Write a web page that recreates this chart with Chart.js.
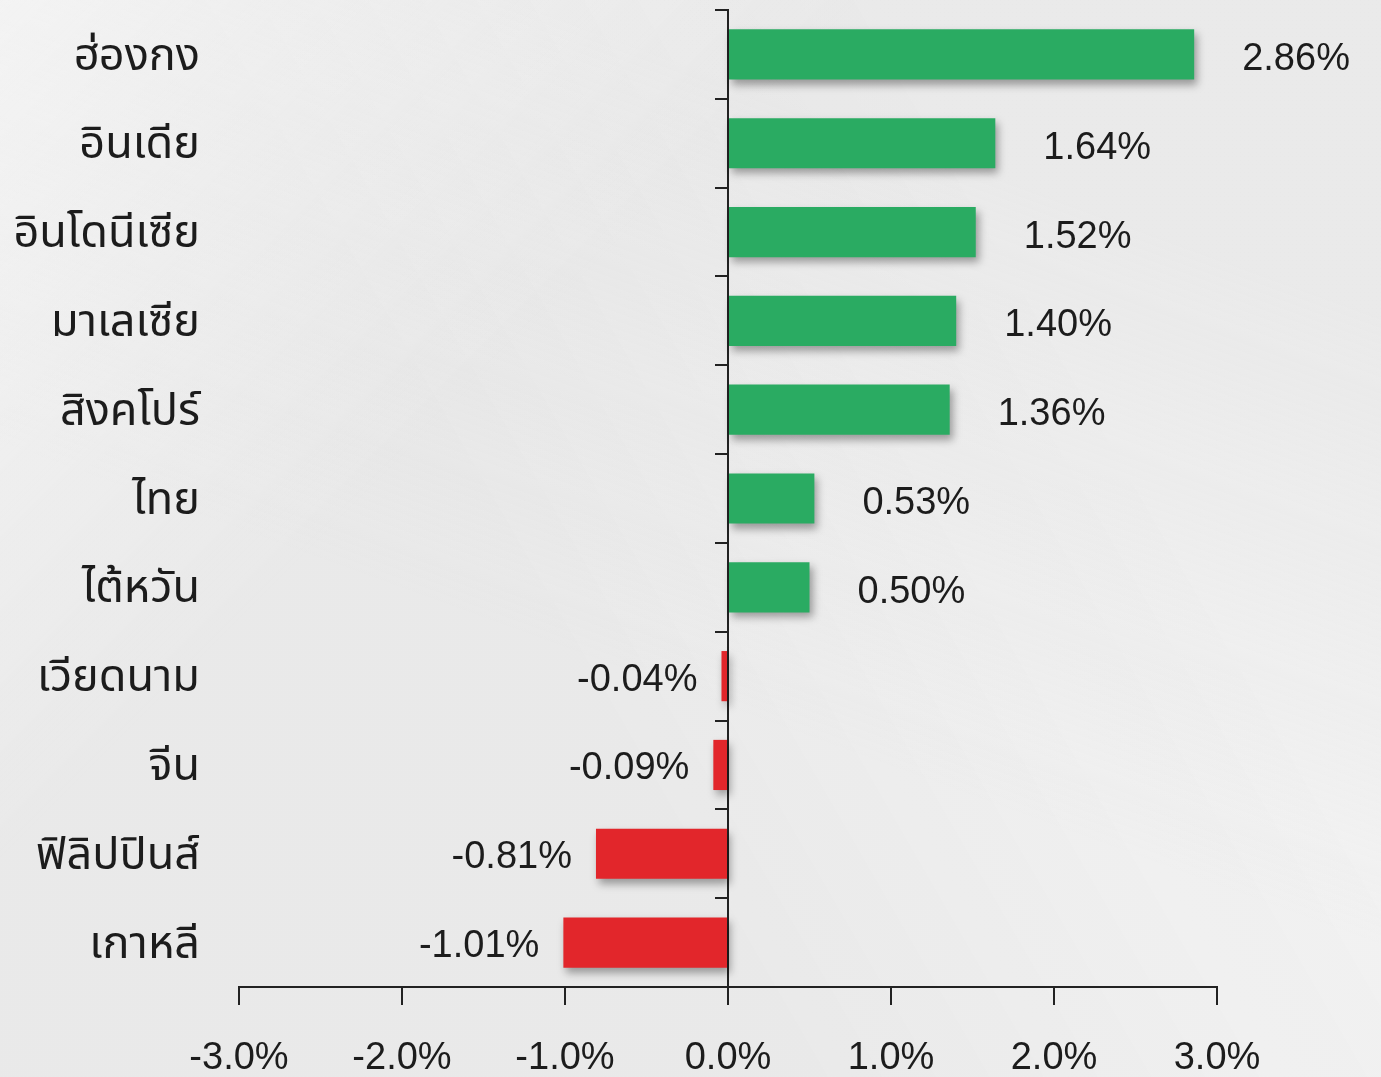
<!DOCTYPE html>
<html>
<head>
<meta charset="utf-8">
<script src="https://cdn.jsdelivr.net/npm/chart.js@4"></script>
<style>
  html, body { margin: 0; padding: 0; overflow: hidden; }
  body {
    width: 1381px; height: 1077px;
    background:
      linear-gradient(135deg, rgba(255,255,255,0.55) 0%, rgba(255,255,255,0) 35%),
      linear-gradient(200deg, rgba(215,215,215,0.3) 20%, rgba(255,255,255,0) 60%),
      linear-gradient(60deg, rgba(228,228,228,0.4) 40%, rgba(252,252,252,0.35) 75%),
      #ededed;
  }
  #wrap { position: absolute; left: 0; top: 0; width: 1381px; height: 1110px; }
</style>
</head>
<body>
<div id="wrap"><canvas id="barChart"></canvas></div>
<script>
// ข้อมูล
const countries = ['ฮ่องกง', 'อินเดีย', 'อินโดนีเซีย', 'มาเลเซีย', 'สิงคโปร์', 'ไทย', 'ไต้หวัน', 'เวียดนาม', 'จีน', 'ฟิลิปปินส์', 'เกาหลี'];
const changes = [2.86, 1.64, 1.52, 1.40, 1.36, 0.53, 0.50, -0.04, -0.09, -0.81, -1.01];
const xTicks = [-3, -2, -1, 0, 1, 2, 3];

const GREEN = '#2aab62';
const RED = '#e2262b';
const TEXT = '#1c1c1c';
const NUM_FONT = '"Liberation Sans", Arial, sans-serif';
const THAI_FONT = '"Noto Sans Thai", "Noto Sans", "DejaVu Sans", sans-serif';

function barColors(){
    let colors = [];
    for (let i = 0; i < changes.length; i++)
        colors.push(changes[i] >= 0 ? GREEN : RED);
    return colors;
}

// เงาของแท่ง
const shadowPlugin = {
    id: 'barShadow',
    beforeDatasetDraw(chart) {
        const ctx = chart.ctx;
        ctx.save();
        ctx.shadowColor = 'rgba(0,0,0,0.35)';
        ctx.shadowBlur = 8;
        ctx.shadowOffsetX = 3;
        ctx.shadowOffsetY = 5;
    },
    afterDatasetDraw(chart) {
        chart.ctx.restore();
    }
};

// ป้ายค่าบนแท่ง
const valueLabels = {
    id: 'valueLabels',
    afterDatasetsDraw(chart) {
        const ctx = chart.ctx;
        const meta = chart.getDatasetMeta(0);
        ctx.save();
        ctx.font = '38px ' + NUM_FONT;
        ctx.fillStyle = TEXT;
        ctx.textBaseline = 'middle';
        meta.data.forEach((bar, i) => {
            const v = changes[i];
            const txt = v.toFixed(2) + '%';
            if (v >= 0) {
                ctx.textAlign = 'left';
                ctx.fillText(txt, bar.x + 48, bar.y + 5);
            } else {
                ctx.textAlign = 'right';
                ctx.fillText(txt, bar.x - 24, bar.y + 4);
            }
        });
        ctx.restore();
    }
};

const data = {
    labels: countries,
    datasets: [{
        data: changes,
        backgroundColor: barColors(),
        borderWidth: 0,
        barPercentage: 0.565,
        categoryPercentage: 1
    }]
};

const config = {
    type: 'bar',
    data: data,
    options: {
        indexAxis: 'y',
        responsive: true,
        maintainAspectRatio: false,
        animation: false,
        layout: { padding: { top: 10, right: 164, left: 0, bottom: 0 } },
        plugins: { legend: { display: false }, tooltip: { enabled: false } },
        scales: {
            x: {
                type: 'linear',
                min: -3, max: 3,
                afterBuildTicks: (s) => { s.ticks = xTicks.map(v => ({ value: v })); },
                afterFit: (s) => { s.height = 123; },
                grid: { drawOnChartArea: false, drawTicks: true, tickLength: 18, color: '#222', lineWidth: 2 },
                border: { display: true, color: '#222', width: 2 },
                ticks: {
                    color: TEXT,
                    font: { size: 38, family: NUM_FONT },
                    padding: 31,
                    maxRotation: 0,
                    callback: (v) => v.toFixed(1) + '%'
                }
            },
            y: {
                position: 'left',
                afterFit: (s) => { s.width = 239; s.paddingTop = 0; s.paddingBottom = 0; },
                grid: { display: false, drawTicks: false },
                border: { display: false },
                ticks: {
                    color: TEXT,
                    font: { size: 45, family: THAI_FONT },
                    padding: 39,
                    labelOffset: 6
                }
            },
            y2: {
                type: 'category',
                labels: countries,
                position: { x: 0 },
                offset: true,
                grid: { drawOnChartArea: false, drawTicks: true, tickLength: 12, color: '#222', lineWidth: 2, offset: true },
                border: { display: true, color: '#222', width: 2 },
                ticks: { display: false }
            }
        }
    },
    plugins: [shadowPlugin, valueLabels]
};

let ctx = document.getElementById('barChart').getContext('2d');
new Chart(ctx, config);
</script>
</body>
</html>
